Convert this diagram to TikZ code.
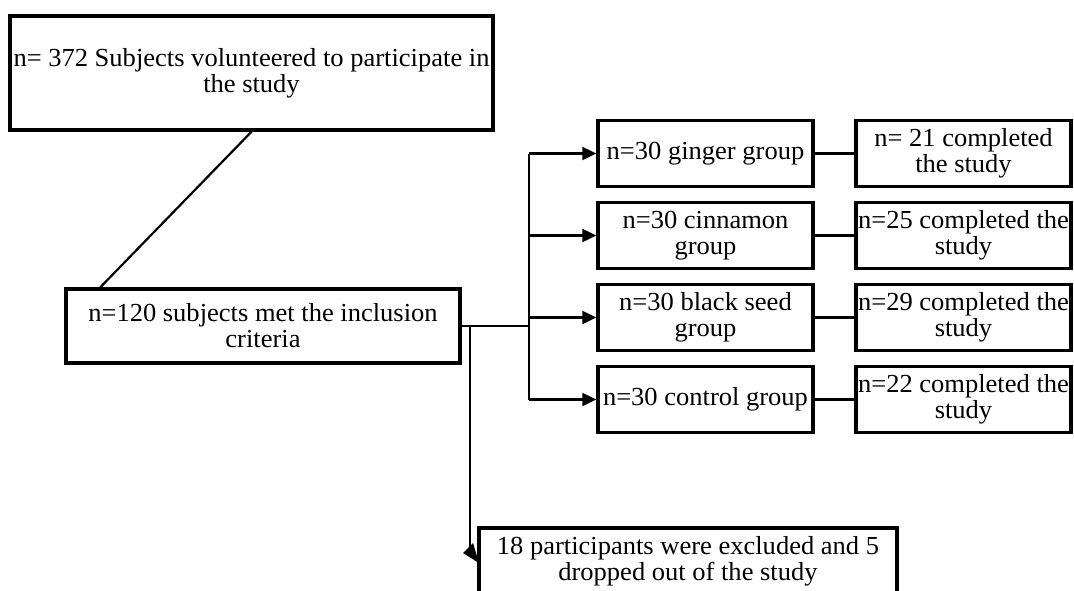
\documentclass[tikz,border=0pt]{standalone}
\usepackage{fontspec}
\setmainfont{Liberation Serif}[FakeStretch=1.02]
\usetikzlibrary{arrows.meta}
\begin{document}
\begin{tikzpicture}[x=1pt,y=-1pt,
  box/.style={draw, line width=3.4pt, inner sep=0pt, align=center,
    font=\fontsize{26}{26}\selectfont},
  gbox/.style={box, minimum width=215pt, minimum height=66pt},
  conn/.style={line width=2.2pt},
  arr/.style={conn, -{Triangle[length=14pt,width=13pt]}}]
\useasboundingbox (0,0) rectangle (1074,590);
\clip (0,0) rectangle (1074,590);
\node[box, minimum width=483pt, minimum height=114pt] (top) at (251.5,73)
  {n= 372 Subjects volunteered to participate in\\the study};
\node[box, minimum width=394pt, minimum height=74pt] (mid) at (263,326)
  {n=120 subjects met the inclusion\\criteria};
\node[gbox] (g1) at (705.5,153.5) {n=30 ginger group};
\node[gbox] (g2) at (705.5,235.5) {n=30 cinnamon\\group};
\node[gbox] (g3) at (705.5,317.5) {n=30 black seed\\group};
\node[gbox] (g4) at (705.5,399.5) {n=30 control group};
\node[gbox] (r1) at (963.5,153.5) {n= 21 completed\\the study};
\node[gbox] (r2) at (963.5,235.5) {n=25 completed the\\study};
\node[gbox] (r3) at (963.5,317.5) {n=29 completed the\\study};
\node[gbox] (r4) at (963.5,399.5) {n=22 completed the\\study};
\node[box, minimum width=418pt, minimum height=67pt] (ex) at (688,561.5)
  {18 participants were excluded and 5\\dropped out of the study};
% connectors
\draw[conn] (top.south) -- ([xshift=36pt]mid.north west);
\coordinate (hub) at (529,326);
\draw[conn] (mid.east) -- (hub);
\draw[conn] (hub |- g1.west) -- (hub |- g4.west);
\foreach \i in {1,2,3,4}{
  \draw[arr] (hub |- g\i.west) -- (g\i.west);
  \draw[conn] (g\i.east) -- (r\i.west);
}
\coordinate (dn) at (470,326);
\coordinate (dnend) at (470,547);
\draw[conn] (dn) -- (dnend);
\fill (463,553) -- (473,543) -- (479,563) -- cycle;
\end{tikzpicture}
\end{document}
